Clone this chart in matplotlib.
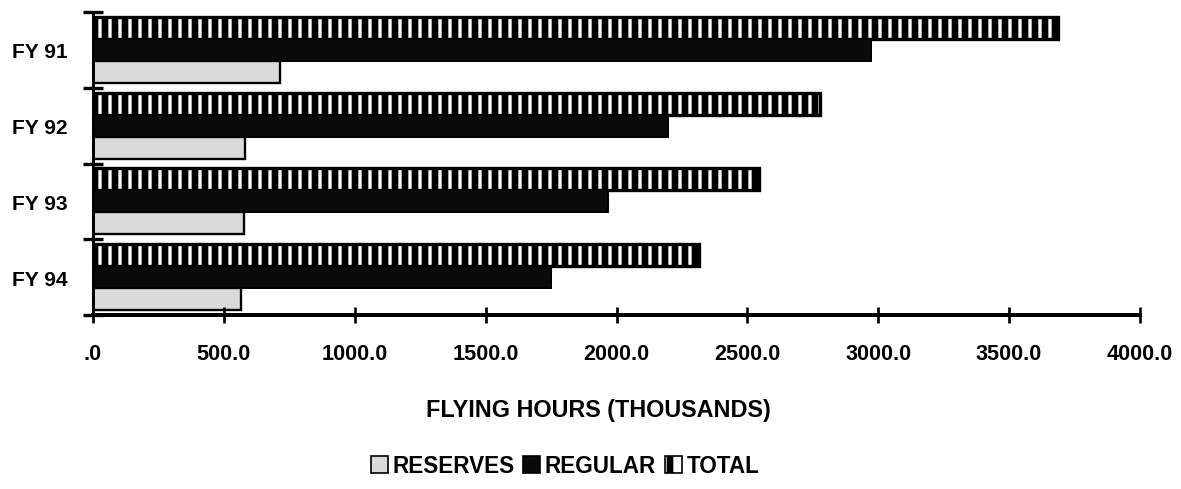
import matplotlib
matplotlib.use("Agg")
import matplotlib.pyplot as plt
from matplotlib.patches import Patch
import numpy as np

categories = ["FY 91", "FY 92", "FY 93", "FY 94"]
reserves = [714, 581, 577, 565]
regular = [2972, 2197, 1968, 1750]
total = [3686, 2778, 2545, 2315]
xticks = [0, 500, 1000, 1500, 2000, 2500, 3000, 3500, 4000]
xtick_labels = [".0", "500.0", "1000.0", "1500.0", "2000.0", "2500.0", "3000.0", "3500.0", "4000.0"]

plt.rcParams['font.family'] = ['Liberation Sans', 'DejaVu Sans']
plt.rcParams['hatch.linewidth'] = 4.0

W, H, DPI = 1181, 490, 120
fig = plt.figure(figsize=(W / DPI, H / DPI), dpi=DPI)
ax = fig.add_axes([93 / W, 1 - 316 / H, (1140 - 93) / W, (316 - 13) / H])

y = np.arange(len(categories))
bh = 0.29
ax.barh(y - bh, total, height=bh, color="white", edgecolor="black", hatch="||", linewidth=2.0)
ax.barh(y, regular, height=bh, color="#0a0a0a", edgecolor="black", linewidth=1.2)
ax.barh(y + bh, reserves, height=bh, color="#dadada", edgecolor="black", linewidth=1.4)

ax.set_xlim(0, 4000)
ax.set_ylim(3.5, -0.5)
ax.set_xticks(xticks)
ax.set_xticklabels(xtick_labels, fontsize=13, fontweight="bold")
ax.set_yticks(y)
ax.set_yticklabels(categories, fontsize=12.6, fontweight="bold")
ax.set_yticks(np.arange(-0.5, len(categories), 1.0), minor=True)

ax.tick_params(axis="x", direction="inout", length=10, width=1.6, pad=12)
ax.tick_params(axis="y", which="major", length=0, pad=15)
ax.tick_params(axis="y", which="minor", direction="inout", length=12, width=2)

for s in ["top", "right"]:
    ax.spines[s].set_visible(False)
ax.spines["bottom"].set_linewidth(2.4)
ax.spines["left"].set_linewidth(1.8)

fig.text(598 / W, 1 - 411 / H, "FLYING HOURS (THOUSANDS)", ha="center", va="center",
         fontsize=14, fontweight="bold")

handles = [
    Patch(facecolor="#dadada", edgecolor="black", linewidth=1),
    Patch(facecolor="#0a0a0a", edgecolor="black", linewidth=1),
    Patch(facecolor="white", edgecolor="black", hatch="|", linewidth=1),
]
fig.legend(handles, ["RESERVES", "REGULAR", "TOTAL"], loc="center",
           bbox_to_anchor=(565 / W, 1 - 467 / H), ncol=3, frameon=False,
           handlelength=0.75, handleheight=0.75, handletextpad=0.2, columnspacing=0.4,
           prop={"size": 13.5, "weight": "bold"})

fig.savefig("out.png", dpi=DPI)
